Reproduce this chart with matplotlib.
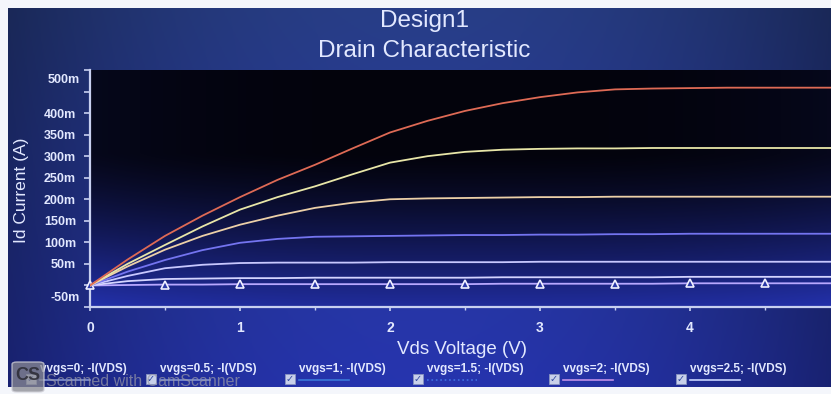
import matplotlib
matplotlib.use("Agg")
import matplotlib.pyplot as plt
from matplotlib.patches import Rectangle, FancyBboxPatch
from matplotlib.lines import Line2D
import numpy as np

plt.rcParams['font.family'] = ['Liberation Sans', 'DejaVu Sans']

# drain voltage sweep (V) and drain current (A)
vds = [0, 0.25, 0.5, 0.75, 1, 1.25, 1.5, 1.75, 2, 2.25, 2.5,
       2.75, 3, 3.25, 3.5, 3.75, 4, 4.25, 4.5, 4.75, 5]
id_vgs0 = [0.0, 0.001, 0.002, 0.002, 0.003, 0.003, 0.003, 0.003, 0.003, 0.003, 0.003,
           0.004, 0.004, 0.004, 0.004, 0.004, 0.005, 0.005, 0.005, 0.005, 0.005]
id_vgs05 = [0.0, 0.010, 0.015, 0.016, 0.017, 0.017, 0.018, 0.018, 0.018, 0.018, 0.018,
            0.019, 0.019, 0.019, 0.019, 0.019, 0.020, 0.020, 0.020, 0.020, 0.020]
id_vgs1 = [0.0, 0.022, 0.040, 0.048, 0.052, 0.053, 0.053, 0.053, 0.054, 0.054, 0.054,
           0.054, 0.055, 0.055, 0.055, 0.055, 0.055, 0.055, 0.055, 0.055, 0.055]
id_vgs15 = [0.0, 0.032, 0.059, 0.082, 0.099, 0.108, 0.113, 0.114, 0.115, 0.116, 0.117,
            0.117, 0.118, 0.118, 0.119, 0.119, 0.120, 0.120, 0.120, 0.120, 0.120]
id_vgs2 = [0.0, 0.044, 0.083, 0.115, 0.141, 0.162, 0.180, 0.192, 0.200, 0.202, 0.203,
           0.204, 0.205, 0.205, 0.206, 0.206, 0.206, 0.206, 0.206, 0.206, 0.206]
id_vgs25 = [0.0, 0.050, 0.094, 0.137, 0.176, 0.205, 0.230, 0.258, 0.285, 0.300, 0.310,
            0.315, 0.317, 0.318, 0.318, 0.319, 0.319, 0.319, 0.319, 0.319, 0.319]
id_vgs3 = [0.0, 0.060, 0.115, 0.162, 0.205, 0.245, 0.280, 0.318, 0.355, 0.382, 0.405,
           0.423, 0.437, 0.448, 0.455, 0.457, 0.458, 0.459, 0.459, 0.459, 0.459]

series = [id_vgs0, id_vgs05, id_vgs1, id_vgs15, id_vgs2, id_vgs25, id_vgs3]
colors = ['#b8a8ff', '#d4d4ff', '#c8c8ff', '#7474f0', '#ecd0a8', '#e8e6a8', '#de6a55']

legend_labels = ['vvgs=0; -I(VDS)', 'vvgs=0.5; -I(VDS)', 'vvgs=1; -I(VDS)',
                 'vvgs=1.5; -I(VDS)', 'vvgs=2; -I(VDS)', 'vvgs=2.5; -I(VDS)']
legend_colors = ['#8090d0', '#8090d0', '#3a78d8', '#4070e0', '#c090e8', '#c8d4ff']

yticks = [-0.05, 0, 0.05, 0.1, 0.15, 0.2, 0.25, 0.3, 0.35, 0.4, 0.45, 0.5]
ytick_labels = ['', '', '50m', '100m', '150m', '200m', '250m', '300m', '350m', '400m', '', '']

W, H = 831, 394
TXT = '#e2e8ff'
AXC = '#c8d0f0'


def px(x, y):
    return x / W, 1 - y / H


fig = plt.figure(figsize=(W / 100, H / 100), dpi=100, facecolor='#f4f6fb')

# photographed screen background
bg = fig.add_axes([8 / W, 7 / H, (W - 8) / W, (H - 15) / H], zorder=-10)
t = np.linspace(0, 1, 200)[:, None]
s = np.linspace(-1, 1, 300)[None, :]
top = np.array([40, 62, 135]) / 255
bot = np.array([38, 52, 175]) / 255
img = top[None, None, :] * (1 - t[..., None]) + bot[None, None, :] * t[..., None]
vign = (1 - 0.35 * s ** 2)[..., None]
img = np.clip(img * vign, 0, 1)
bg.imshow(img, aspect='auto', extent=[0, 1, 0, 1])
bg.set_axis_off()

ax = fig.add_axes([90 / W, 1 - 307 / H, 741 / W, 237 / H])
ax.set_facecolor('none')

# dark plot area that turns blue towards the bottom
t2 = np.linspace(0, 1, 200)[:, None]
s2 = np.linspace(-1, 1, 300)[None, :]
ramp = np.clip((t2 - 0.35) / 0.65, 0, 1) ** 1.3
dark = np.array([3, 3, 12]) / 255
blue = np.array([32, 44, 155]) / 255
pimg = dark[None, None, :] * (1 - ramp[..., None]) + blue[None, None, :] * ramp[..., None]
edge = (0.12 * np.abs(s2) ** 3)[..., None] * np.array([0.1, 0.15, 0.5])[None, None, :]
pimg = np.clip(pimg + edge, 0, 1)
ax.imshow(pimg, aspect='auto', extent=[0, 1, 0, 1], transform=ax.transAxes, zorder=0)

for i, (ys, c) in enumerate(zip(series, colors)):
    if i == 0:
        ax.plot(vds, ys, color=c, lw=1.3, marker='^', ms=6, mfc='#2a38a8',
                mec='#f0f0ff', mew=1.2, markevery=2, zorder=3, clip_on=False)
    else:
        ax.plot(vds, ys, color=c, lw=1.3, zorder=3)

ax.set_xlim(0, 741 / 150)
ax.set_ylim(-0.05, 0.5)
ax.set_xticks([0, 1, 2, 3, 4])
ax.set_xticks([0.5, 1.5, 2.5, 3.5, 4.5], minor=True)
ax.set_yticks(yticks)
ax.set_yticklabels(ytick_labels)

for side in ['top', 'right']:
    ax.spines[side].set_visible(False)
for side in ['left', 'bottom']:
    ax.spines[side].set_color(AXC)
    ax.spines[side].set_linewidth(1.6)

ax.tick_params(axis='y', colors=AXC, labelcolor=TXT, length=4, width=1.2,
               pad=6, labelsize=9)
ax.tick_params(axis='x', which='major', colors=AXC, labelcolor=TXT, length=3,
               width=1.2, pad=7, labelsize=10)
ax.tick_params(axis='x', which='minor', colors=AXC, length=2, width=1)
for lbl in ax.get_yticklabels() + ax.get_xticklabels():
    lbl.set_fontweight('bold')

# end labels sit inside the axis span on the screen
fig.text(*px(80, 80), '500m', ha='right', va='center', color=TXT,
         fontsize=9, fontweight='bold')
fig.text(*px(80, 298), '-50m', ha='right', va='center', color=TXT,
         fontsize=9, fontweight='bold')

fig.text(*px(424, 21), 'Design1', ha='center', va='center', color=TXT, fontsize=17.5)
fig.text(*px(424, 51), 'Drain Characteristic', ha='center', va='center',
         color=TXT, fontsize=17.5)
fig.text(*px(462, 350), 'Vds Voltage (V)', ha='center', va='center',
         color=TXT, fontsize=13.5)
fig.text(*px(22, 190), 'Id Current (A)', ha='center', va='center',
         color=TXT, fontsize=12.5, rotation=90)

# legend strip with check boxes
leg_x = [40, 160, 299, 427, 563, 690]
for i, (lab, lc, lx) in enumerate(zip(legend_labels, legend_colors, leg_x)):
    bx, by = lx - 14, 384
    fig.add_artist(Rectangle(px(bx, by), 10 / W, 10 / H, transform=fig.transFigure,
                             fc='#c8d0ea', ec='#8894c0', lw=0.6, zorder=5))
    fig.text(*px(bx + 5, by - 5), '\u2713', ha='center', va='center',
             color='#3048a0', fontsize=7, fontweight='bold', zorder=6,
             family='DejaVu Sans')
    fig.text(*px(lx, 369), lab, ha='left', va='center', color=TXT,
             fontsize=8.5, fontweight='bold', zorder=6)
    x0, y0 = px(lx, 380)
    x1, _ = px(lx + 50, 380)
    fig.add_artist(Line2D([x0, x1], [y0, y0], transform=fig.transFigure,
                          color=lc, lw=1.2, ls=':' if i == 3 else '-', zorder=6))

# CamScanner watermark from the scan
fig.add_artist(FancyBboxPatch(px(12, 392), 32 / W, 30 / H, transform=fig.transFigure,
                              boxstyle='round,pad=0,rounding_size=0.006',
                              fc='#8a8a92', ec='#d0d0d8', lw=1, alpha=0.75, zorder=7))
fig.text(*px(28, 375), 'CS', ha='center', va='center', color='#2a2a33',
         fontsize=13, fontweight='bold', zorder=8, alpha=0.85)
fig.text(*px(46, 381), 'Scanned with CamScanner', ha='left', va='center',
         color='#9a9aa8', fontsize=11.5, alpha=0.7, zorder=8)

fig.savefig('out.png', dpi=100, facecolor=fig.get_facecolor())
